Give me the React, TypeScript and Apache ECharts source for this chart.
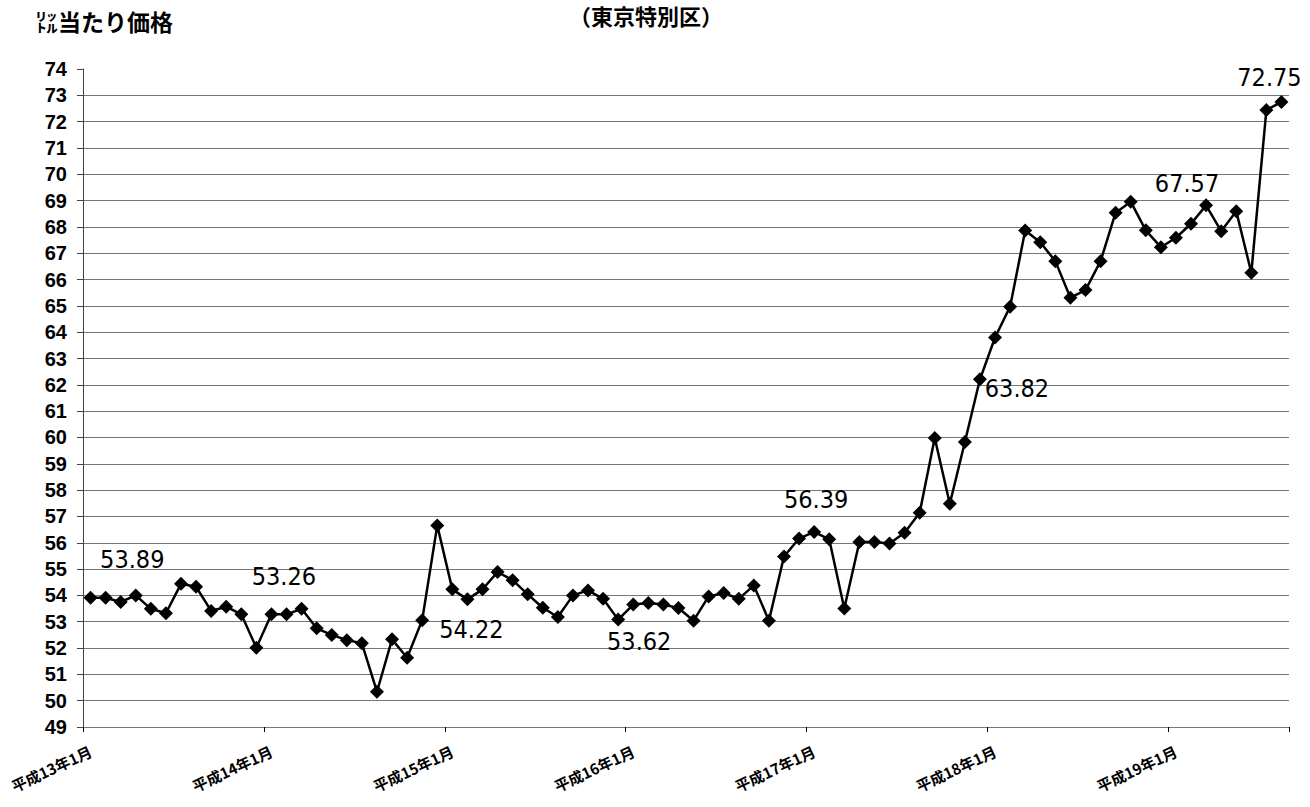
import React, { useEffect, useRef } from "react";
import * as echarts from "echarts";

// Categories: months from 平成13年1月 to 平成19年8月
const eraYears = ["平成13年", "平成14年", "平成15年", "平成16年", "平成17年", "平成18年", "平成19年"];
const monthNames = ["1月", "2月", "3月", "4月", "5月", "6月", "7月", "8月", "9月", "10月", "11月", "12月"];
const monthCount = 80;
const categories: string[] = [];
eraYears.forEach((y) => monthNames.forEach((m) => categories.push(y + m)));
const cats = categories.slice(0, monthCount);

// Price per litre (円)
const values = [
  53.91, 53.91, 53.75, 54.0, 53.49, 53.32, 54.44, 54.33, 53.41, 53.57, 53.28, 52.01,
  53.28, 53.28, 53.49, 52.75, 52.5, 52.3, 52.18, 50.34, 52.33, 51.63, 53.06, 56.66,
  54.23, 53.85, 54.23, 54.89, 54.58, 54.04, 53.53, 53.18, 54.0, 54.19, 53.87, 53.08,
  53.65, 53.71, 53.65, 53.52, 53.04, 53.96, 54.09, 53.87, 54.38, 53.04, 55.48, 56.16,
  56.41, 56.13, 53.5, 56.03, 56.03, 55.97, 56.38, 57.14, 59.98, 57.48, 59.83, 62.21,
  63.8, 64.97, 67.86, 67.42, 66.7, 65.31, 65.6, 66.7, 68.54, 68.96, 67.87, 67.23,
  67.59, 68.12, 68.82, 67.84, 68.6, 66.26, 72.44, 72.75,
];

// Annotated figures and the points they sit beside
const noteIndex = [3, 13, 25, 36, 48, 59, 73, 79];
const noteText = ["53.89", "53.26", "54.22", "53.62", "56.39", "63.82", "67.57", "72.75"];

const yMin = 49;
const yMax = 74;
const yStep = 1;

const noteOffsets: [number, number][] = [
  [-3.5, -36],
  [-2.7, -38],
  [4, 30],
  [6, 36.5],
  [2, -32],
  [37, 9.5],
  [-4, -40],
  [-12, -24.6],
];

export default function App() {
  const ref = useRef<HTMLDivElement>(null);
  useEffect(() => {
    if (!ref.current) return;
    const chart = echarts.init(ref.current, undefined, { renderer: "svg" });
    const seriesData = values.map((v, i) => {
      const k = noteIndex.indexOf(i);
      if (k < 0) return v;
      return {
        value: v,
        label: {
          show: true,
          position: "inside",
          offset: noteOffsets[k],
          formatter: noteText[k],
          color: "#000",
          fontSize: 25,
          fontFamily: "'Liberation Sans Narrow', 'DejaVu Sans Condensed', 'Liberation Sans', sans-serif",
        },
      };
    });
    chart.setOption({
      animation: false,
      backgroundColor: "#fff",
      grid: { left: 83, right: 21, top: 69, bottom: 80, containLabel: false },
      graphic: [
        {
          type: "text",
          x: 646,
          y: 4,
          style: {
            text: "（東京特別区）",
            fill: "#000",
            font: "bold 22px 'Noto Sans CJK JP'",
            textAlign: "center",
            textVerticalAlign: "top",
          },
        },
        {
          type: "text",
          x: 35,
          y: 21,
          style: {
            text: "㍑当たり価格",
            fill: "#000",
            font: "bold 23px 'Noto Sans CJK JP'",
            textAlign: "left",
            textVerticalAlign: "middle",
          },
        },
      ],
      xAxis: {
        type: "category",
        data: cats,
        boundaryGap: true,
        axisLine: { show: true, lineStyle: { color: "#777", width: 1 } },
        axisTick: { show: true, interval: 11, length: 5, lineStyle: { color: "#000" } },
        axisLabel: {
          interval: 11,
          rotate: 25,
          margin: 23,
          color: "#000",
          fontSize: 15,
          fontWeight: "bold",
          fontFamily: "'Noto Sans CJK JP'",
        },
        splitLine: { show: false },
      },
      yAxis: {
        type: "value",
        min: yMin,
        max: yMax,
        interval: yStep,
        axisLine: { show: true, lineStyle: { color: "#444", width: 1 } },
        axisTick: { show: true, length: 6, lineStyle: { color: "#444" } },
        axisLabel: {
          margin: 16,
          color: "#000",
          fontSize: 20,
          fontWeight: "bold",
          fontFamily: "'Liberation Sans', sans-serif",
        },
        splitLine: { show: true, showMaxLine: false, lineStyle: { color: "#777", width: 1 } },
      },
      series: [
        {
          type: "line",
          data: seriesData,
          symbol: "diamond",
          symbolSize: 14,
          showSymbol: true,
          showAllSymbol: true,
          itemStyle: { color: "#000" },
          lineStyle: { color: "#000", width: 2.5 },
          label: { show: false },
          z: 3,
        },
      ],
    });
    return () => chart.dispose();
  }, []);
  return (
    <div
      ref={ref}
      style={{ position: "fixed", left: 0, top: 0, width: 1310, height: 807, background: "#fff" }}
    />
  );
}
